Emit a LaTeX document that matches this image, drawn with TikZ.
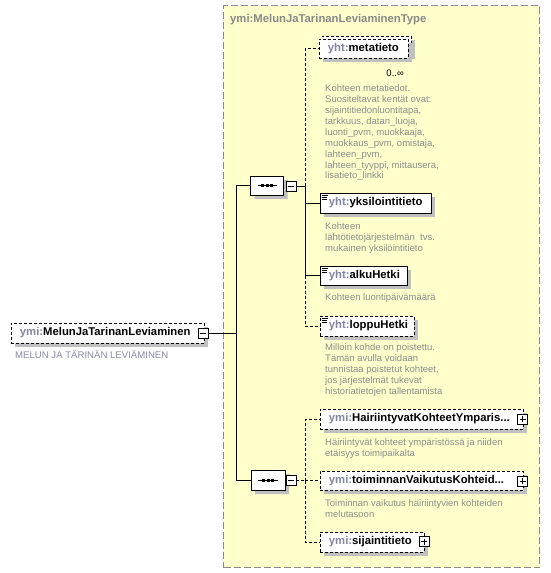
\documentclass[tikz,border=0pt]{standalone}
\usepackage{fontspec}
\setmainfont{Liberation Sans}
\usetikzlibrary{shapes.misc,shadows}
\definecolor{typebg}{HTML}{FFFFCC}
\definecolor{typeborder}{HTML}{8A8A8A}
\definecolor{prefixc}{HTML}{8484A4}
\definecolor{descc}{HTML}{8C8C8C}
\definecolor{rootdescc}{HTML}{8A8AA6}
\definecolor{shadowc}{HTML}{C0C0C0}
\definecolor{titlec}{HTML}{888888}
\tikzset{
  shad/.style={drop shadow={shadow xshift=4pt,shadow yshift=-4pt,fill=shadowc,opacity=1}},
  elem/.style={draw=black, line width=0.9pt, fill=white, minimum height=20pt,
    inner xsep=8.5pt, inner ysep=0pt, anchor=west, align=left,
    font=\fontsize{11.3}{13}\selectfont\bfseries, text height=8.3pt, text depth=2.5pt, shad},
  optelem/.style={elem, dash pattern=on 3pt off 2pt},
  simpleicon/.style={path picture={
      \draw[black, solid, line width=0.8pt] ([xshift=2pt,yshift=-2pt]path picture bounding box.north west) -- ++(6pt,0);
      \draw[black, solid, line width=0.8pt] ([xshift=2pt,yshift=-4pt]path picture bounding box.north west) -- ++(4.5pt,0);
      \draw[black, solid, line width=0.8pt] ([xshift=2pt,yshift=-6pt]path picture bounding box.north west) -- ++(4.5pt,0);}},
  pmbox/.style={draw=black, solid, line width=0.8pt, fill=white, minimum size=10pt, inner sep=0pt},
  minusbox/.style={pmbox, path picture={
      \draw[black, line width=0.8pt] ([xshift=2pt]path picture bounding box.west) -- ([xshift=-2pt]path picture bounding box.east);}},
  plusbox/.style={pmbox, path picture={
      \draw[black, line width=0.8pt] ([xshift=2pt]path picture bounding box.west) -- ([xshift=-2pt]path picture bounding box.east);
      \draw[black, line width=0.8pt] ([yshift=-2pt]path picture bounding box.north) -- ([yshift=2pt]path picture bounding box.south);}},
  seqbox/.style={chamfered rectangle, chamfered rectangle xsep=4pt, chamfered rectangle ysep=4pt,
    draw=black, line width=0.9pt, fill=white, minimum width=33pt, minimum height=19pt, inner sep=0pt, shad,
    path picture={
      \draw[black, line width=0.9pt] ([xshift=7pt]path picture bounding box.west) -- ([xshift=-7pt]path picture bounding box.east);
      \fill[black] ([xshift=-5.6pt,yshift=-1.5pt]path picture bounding box.center) rectangle ++(3pt,3pt);
      \fill[black] ([xshift=-1.5pt,yshift=-1.5pt]path picture bounding box.center) rectangle ++(3pt,3pt);
      \fill[black] ([xshift=2.6pt,yshift=-1.5pt]path picture bounding box.center) rectangle ++(3pt,3pt);}},
  desc/.style={anchor=north west, inner sep=0pt, align=left, text=descc,
    font=\fontsize{9.5}{10.9}\selectfont},
  conn/.style={line width=0.9pt, black},
  dconn/.style={conn, dash pattern=on 3pt off 2pt},
}
\newcommand{\pfx}[1]{{\color{prefixc}#1:}}
\newcommand{\topstrut}{\rule{0pt}{9pt}}
\begin{document}
\begin{tikzpicture}[x=1pt,y=-1pt]
\useasboundingbox[fill=white] (0,0) rectangle (550,573);
% type box
\node[draw=typeborder, fill=typebg, line width=1.2pt, dash pattern=on 7pt off 3pt,
  minimum width=316pt, minimum height=562pt, anchor=north west, inner sep=0pt] (typebox) at (223,5) {};
\node[anchor=base west, inner sep=0pt, text=titlec, font=\fontsize{11.3}{13}\selectfont\bfseries] (title) at (230,22) {ymi:MelunJaTarinanLeviaminenType};

% root
\node[optelem, text width=176pt] (root) at (11,333) {\pfx{ymi}MelunJaTarinanLeviaminen};
\node[minusbox] (rootpm) at (203,333.5) {};
\node[anchor=base west, inner sep=0pt, text=rootdescc, font=\fontsize{9.6}{10.9}\selectfont] (rootdesc) at (15,358.5) {MELUN JA TÄRINÄN LEVIÄMINEN};

% sequences
\node[seqbox] (seq1) at (267,185.5) {};
\node[minusbox] (seq1pm) at (291,186) {};
\node[seqbox, minimum width=34pt, minimum height=20pt] (seq2) at (268,480) {};
\node[minusbox] (seq2pm) at (291,480.5) {};

% junctions
\coordinate (j0) at (236,333.5);
\coordinate (j1) at (305,186);
\coordinate (j2) at (305,480.5);

% elements of seq1
\node[optelem, minimum width=89pt, minimum height=19pt, text width=72pt] (metaback) at (322,45.5) {};
\node[optelem, minimum width=89pt, minimum height=19pt, text width=72pt] (meta) at (319,48.5) {\pfx{yht}metatieto};
\node[anchor=base east, inner sep=0pt, font=\fontsize{9.5}{11}\selectfont] (metaocc) at (404,76) {0..∞};
\node[desc] (metadesc) at (325,82.5) {\topstrut Kohteen metatiedot.\\Suositeltavat kentät ovat:\\sijaintitiedonluontitapa,\\tarkkuus, datan\_luoja,\\luonti\_pvm, muokkaaja,\\muokkaus\_pvm, omistaja,\\lahteen\_pvm,\\lahteen\_tyyppi, mittausera,\\lisatieto\_linkki};

\node[elem, simpleicon, text width=94pt] (yks) at (320,203) {\pfx{yht}yksilointitieto};
\node[desc] (yksdesc) at (325,220.5) {\topstrut Kohteen\\lähtötietojärjestelmän\ \ tvs.\\mukainen yksilöintitieto};

\node[elem, simpleicon, minimum height=19pt, text width=70pt] (alku) at (320,275.5) {\pfx{yht}alkuHetki};
\node[desc] (alkudesc) at (325,291.5) {\topstrut Kohteen luontipäivämäärä};

\node[optelem, simpleicon, text width=77pt] (loppu) at (320,326) {\pfx{yht}loppuHetki};
\node[desc] (loppudesc) at (325,341.5) {\topstrut Milloin kohde on poistettu.\\Tämän avulla voidaan\\tunnistaa poistetut kohteet,\\jos järjestelmät tukevat\\historiatietojen tallentamista};

% elements of seq2
\node[optelem, text width=186pt] (hai) at (320,419) {\pfx{ymi}HairiintyvatKohteetYmparis...};
\node[plusbox] (haipm) at (522.5,419) {};
\node[desc] (haidesc) at (325,436.5) {\topstrut Häiriintyvät kohteet ympäristössä ja niiden\\etäisyys toimipaikalta};

\node[optelem, minimum height=19pt, text width=186pt] (toi) at (320,480.5) {\pfx{ymi}toiminnanVaikutusKohteid...};
\node[plusbox] (toipm) at (522.5,481) {};
\node[desc] (toidesc) at (325,497.5) {\topstrut Toiminnan vaikutus häiriintyvien kohteiden\\melutasoon};

\node[optelem, text width=87pt] (sij) at (320,542) {\pfx{ymi}sijaintitieto};
\node[plusbox] (sijpm) at (424,541.5) {};

% connectors
\draw[conn] (rootpm.east) -- (j0);
\draw[conn] (j0) |- (seq1.west);
\draw[conn] (j0) |- (seq2.west);
\draw[conn] (seq1pm.east) -- (j1);
\draw[dconn] (j1) |- (meta.west);
\draw[conn] (j1) |- (yks.west);
\draw[conn] (j1) |- (alku.west);
\draw[dconn] (j1 |- alku.west) |- (loppu.west);
\draw[dconn] (seq2pm.east) -- (j2);
\draw[dconn] (j2) |- (hai.west);
\draw[dconn] (j2) |- (toi.west);
\draw[dconn] (j2) |- (sij.west);
\end{tikzpicture}
\end{document}
